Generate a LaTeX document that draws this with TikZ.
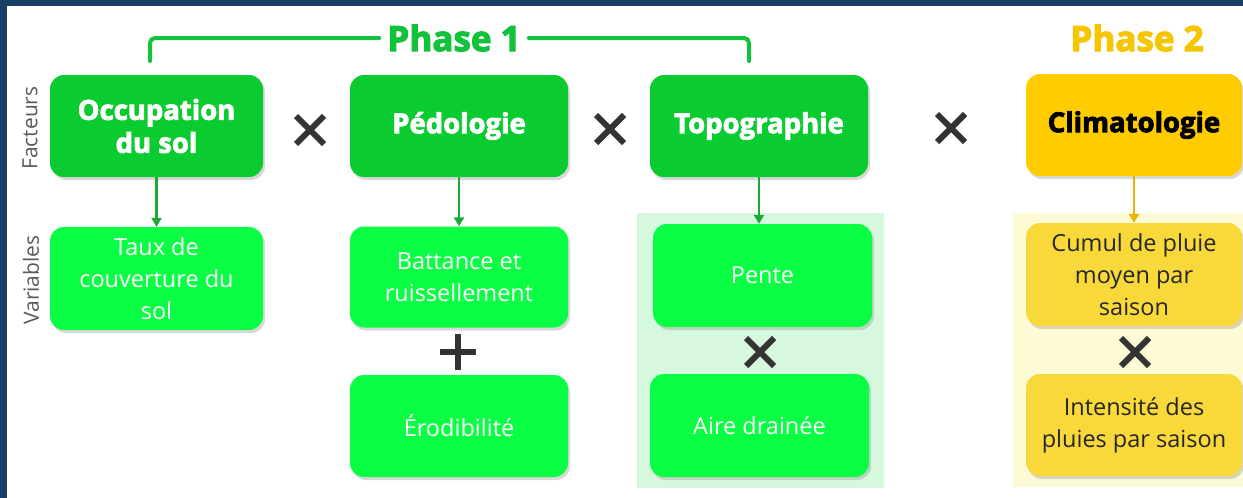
\documentclass[tikz,border=0pt]{standalone}
\usepackage{fontspec}
\setmainfont{Open Sans}
\newfontfamily\heavy{Open Sans}[BoldFeatures={FakeBold=3}]
\usetikzlibrary{shadows,arrows.meta}
\definecolor{navy}{HTML}{1B3F66}
\definecolor{hdrgreen}{HTML}{0ACC30}
\definecolor{vargreen}{HTML}{0AFF44}
\definecolor{phgreen}{HTML}{12C23A}
\definecolor{hdryellow}{HTML}{FFCC00}
\definecolor{varyellow}{HTML}{F9D93A}
\definecolor{bggreen}{HTML}{D6F9DD}
\definecolor{bgyellow}{HTML}{FDFAD6}
\definecolor{arrgreen}{HTML}{1DA838}
\definecolor{arryellow}{HTML}{E8B400}
\definecolor{phyellow}{HTML}{F5C500}
\definecolor{crossgray}{HTML}{333333}
\definecolor{sidegray}{HTML}{5A5A5A}
\begin{document}
\begin{tikzpicture}[x=1pt,y=-1pt,
  box/.style={rounded corners=14pt, inner sep=0pt, align=center,
    drop shadow={shadow xshift=2pt,shadow yshift=-3pt,opacity=0.3}},
  hdr/.style={box, fill=hdrgreen, text=white, font=\fontsize{27.5}{33}\heavy\bfseries},
  hdry/.style={box, fill=hdryellow, text=black, font=\fontsize{27.5}{33}\heavy\bfseries},
  var/.style={box, fill=vargreen, text=white, font=\fontsize{23.5}{32}\selectfont},
  vary/.style={box, fill=varyellow, text=black!85, font=\fontsize{23.5}{32}\selectfont},
  arr/.style={line width=2.5pt, -{Triangle[length=9pt,width=10pt]}},
  phase/.style={font=\fontsize{35}{40}\heavy\bfseries, inner sep=0pt},
  side/.style={rotate=90, text=sidegray, font=\fontsize{21}{24}\selectfont},
  crosspic/.pic={\draw[line width=6pt,crossgray] (-14,-14) -- (14,14) (-14,14) -- (14,-14);},
  pluspic/.pic={\draw[line width=6pt,crossgray] (-18,0) -- (18,0) (0,-18) -- (0,18);}
]
\useasboundingbox (0,0) rectangle (1243,498);
\fill[navy] (0,0) rectangle (1243,498);
\fill[white] (7,6) rectangle (1243,498);

% backgrounds
\fill[bggreen] (637,213) rectangle (884,488);
\fill[bgyellow] (1013,213) rectangle (1243,487);

% side labels
\node[side] (facteurs) at (30,128) {Facteurs};
\node[side] (variables) at (31,280) {Variables};

% header boxes
\node[hdr, minimum width=213pt, minimum height=102pt] (occ) at (156.5,126) {Occupation\\du sol};
\node[hdr, minimum width=218pt, minimum height=102pt] (ped) at (459,126) {Pédologie};
\node[hdr, minimum width=218pt, minimum height=102pt] (topo) at (759,126) {Topographie};
\node[hdry, minimum width=216pt, minimum height=102pt] (clim) at (1134,125) {Climatologie};

% variable boxes
\node[var, minimum width=213pt, minimum height=103pt] (taux) at (156.5,278.5) {Taux de\\couverture du\\sol};
\node[var, minimum width=218pt, minimum height=101pt] (batt) at (459,277) {Battance et\\ruissellement};
\node[var, minimum width=218pt, minimum height=102pt] (erod) at (459,426) {Érodibilité};
\node[var, minimum width=219pt, minimum height=103pt] (pente) at (762.5,275.5) {Pente};
\node[var, minimum width=219pt, minimum height=103pt] (aire) at (759.5,425.5) {Aire drainée};
\node[vary, minimum width=216pt, minimum height=103pt] (cumul) at (1134,274.5) {Cumul de pluie\\moyen par\\saison};
\node[vary, minimum width=216pt, minimum height=102pt] (inten) at (1134,425) {Intensité des\\pluies par saison};

% arrows
\draw[arr, arrgreen] (occ.south) -- (taux.north);
\draw[arr, arrgreen] (ped.south) -- (batt.north);
\draw[arr, arrgreen] (topo.south) -- (topo.south |- pente.north);
\draw[arr, arryellow] (clim.south) -- (clim.south |- cumul.north);

% phase labels
\node[phase, text=phgreen, fill=white, inner xsep=8pt] (ph1) at (454,38) {Phase 1};
\node[phase, text=phyellow] (ph2) at (1137,38) {Phase 2};
\coordinate (bl) at (150,61);
\coordinate (br) at (749,61);
\draw[phgreen, line width=4pt, rounded corners=5pt, line cap=round] (bl) |- (ph1.west);
\draw[phgreen, line width=4pt, rounded corners=5pt, line cap=round] (ph1.east) -| (br);

% operators
\pic at (310,130) {crosspic};
\pic at (610,129) {crosspic};
\pic at (951,128) {crosspic};
\pic at (760,352) {crosspic};
\pic at (1135,352) {crosspic};
\pic at (458,352) {pluspic};
\end{tikzpicture}
\end{document}
